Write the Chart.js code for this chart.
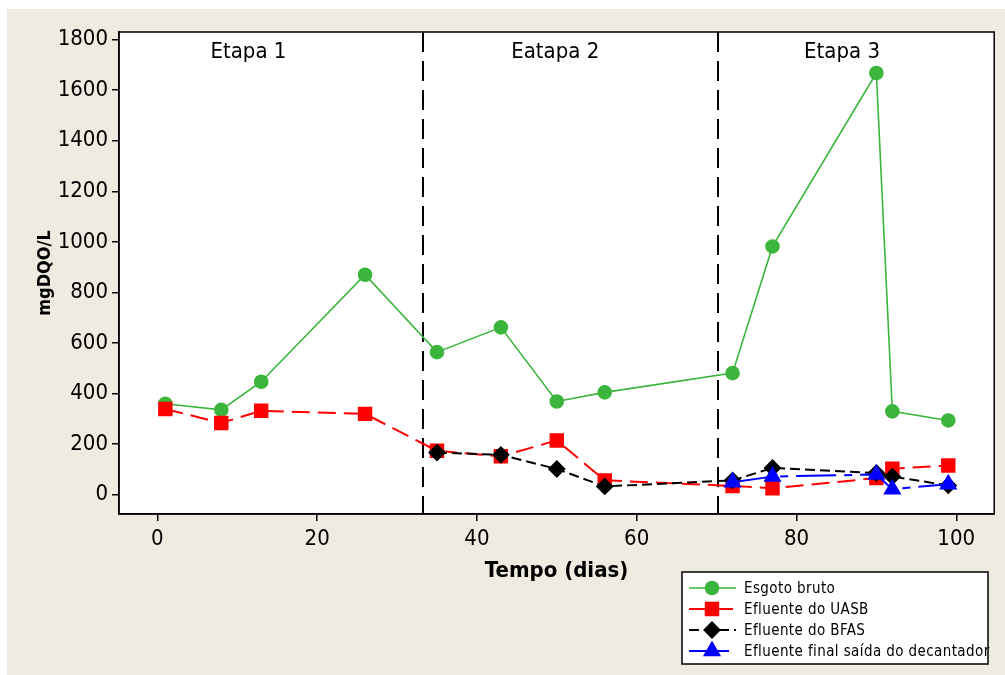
<!DOCTYPE html>
<html>
<head>
<meta charset="utf-8">
<script src="https://cdn.jsdelivr.net/npm/chart.js@4.4.1/dist/chart.umd.min.js"></script>
<style>
  html, body { margin: 0; padding: 0; background: #fff; }
  canvas { display: block; }
</style>
</head>
<body>
<canvas id="chart" width="1005" height="675"></canvas>
<script>
// dados
const dias = [1, 8, 13, 26, 35, 43, 50, 56, 72, 77, 90, 92, 99];
const esgotoBruto = [360, 336, 447, 870, 564, 662, 369, 405, 481, 982, 1668, 330, 294];
const efluenteUASB = [339, 284, 332, 320, 174, 152, 215, 57, 35, 26, 66, 103, 116];
const diasBFAS = [35, 43, 50, 56, 72, 77, 90, 92, 99];
const efluenteBFAS = [167, 158, 102, 33, 57, 106, 86, 72, 37];
const diasDecantador = [72, 77, 90, 92, 99];
const efluenteDecantador = [50, 72, 80, 22, 42];

const xTicks = [0, 20, 40, 60, 80, 100];
const yTicks = [0, 200, 400, 600, 800, 1000, 1200, 1400, 1600, 1800];

const etapaLimites = [33.2, 70.2];
const etapaNomes = ['Etapa 1', 'Eatapa 2', 'Etapa 3'];
const etapaPosicoes = [11.4, 49.8, 85.7];

const FONT = "'DejaVu Sans Condensed', 'DejaVu Sans', sans-serif";

function pares(xs, ys) {
  return xs.map((x, i) => ({ x: x, y: ys[i] }));
}

// fundo bege + area branca + moldura
const fundoPlugin = {
  id: 'fundoPlugin',
  beforeDraw(chart) {
    const ctx = chart.ctx;
    const a = chart.chartArea;
    ctx.save();
    ctx.fillStyle = '#ffffff';
    ctx.fillRect(0, 0, chart.width, chart.height);
    ctx.fillStyle = '#efebe1';
    ctx.fillRect(7, 9, chart.width - 7, chart.height - 9);
    ctx.fillStyle = '#ffffff';
    ctx.fillRect(a.left, a.top, a.right - a.left, a.bottom - a.top);
    ctx.restore();
  },
  beforeDatasetsDraw(chart) {
    const ctx = chart.ctx;
    const a = chart.chartArea;
    const xs = chart.scales.x;
    const ys = chart.scales.y;
    ctx.save();
    // linhas das etapas
    ctx.strokeStyle = '#000';
    ctx.lineWidth = 2;
    ctx.setLineDash([20, 9]);
    etapaLimites.forEach(v => {
      const px = Math.round(xs.getPixelForValue(v));
      ctx.beginPath();
      ctx.moveTo(px, a.top);
      ctx.lineTo(px, a.bottom);
      ctx.stroke();
    });
    ctx.setLineDash([]);
    ctx.fillStyle = '#000';
    ctx.font = '22px ' + FONT;
    ctx.textAlign = 'center';
    ctx.textBaseline = 'middle';
    etapaNomes.forEach((t, i) => {
      ctx.fillText(t, xs.getPixelForValue(etapaPosicoes[i]), ys.getPixelForValue(1750));
    });
    ctx.restore();
  },
  afterDraw(chart) {
    const ctx = chart.ctx;
    const a = chart.chartArea;
    ctx.save();
    ctx.strokeStyle = '#000';
    ctx.lineWidth = 1.5;
    ctx.strokeRect(a.left, a.top, a.right - a.left, a.bottom - a.top);

    // legenda
    const lx = 682, ly = 572, lw = 306, lh = 92;
    ctx.fillStyle = '#fff';
    ctx.fillRect(lx, ly, lw, lh);
    ctx.strokeRect(lx, ly, lw, lh);
    ctx.font = '15px ' + FONT;
    ctx.letterSpacing = '0.4px';
    ctx.textAlign = 'left';
    ctx.textBaseline = 'middle';
    chart.data.datasets.forEach((ds, i) => {
      const y = ly + 16 + i * 21;
      ctx.strokeStyle = ds.borderColor;
      ctx.lineWidth = ds.borderWidth;
      ctx.setLineDash(ds.borderDash || []);
      ctx.beginPath();
      ctx.moveTo(lx + 7, y);
      ctx.lineTo(lx + 54, y);
      ctx.stroke();
      ctx.setLineDash([]);
      ctx.fillStyle = ds.pointBackgroundColor;
      ctx.strokeStyle = ds.pointBorderColor;
      Chart.helpers.drawPoint(ctx, {
        pointStyle: ds.pointStyle,
        radius: ds.pointRadius,
        rotation: 0,
        borderWidth: 1
      }, lx + 30, y);
      ctx.fillStyle = '#000';
      ctx.fillText(ds.label, lx + 62, y + 1);
    });
    ctx.restore();
  }
};

const verde = '#3bb53b';

new Chart(document.getElementById('chart'), {
  type: 'scatter',
  data: {
    datasets: [
      {
        label: 'Esgoto bruto',
        data: pares(dias, esgotoBruto),
        showLine: true,
        borderColor: verde,
        backgroundColor: verde,
        pointBackgroundColor: verde,
        pointBorderColor: verde,
        borderWidth: 1.6,
        pointStyle: 'circle',
        pointRadius: 6.5,
        order: 4
      },
      {
        label: 'Efluente do UASB',
        data: pares(dias, efluenteUASB),
        showLine: true,
        borderColor: '#ff0000',
        backgroundColor: '#ff0000',
        pointBackgroundColor: '#ff0000',
        pointBorderColor: '#ff0000',
        borderWidth: 2,
        borderDash: [18, 8],
        pointStyle: 'rect',
        pointRadius: 8.8,
        order: 3
      },
      {
        label: 'Efluente do BFAS',
        data: pares(diasBFAS, efluenteBFAS),
        showLine: true,
        borderColor: '#000000',
        backgroundColor: '#000000',
        pointBackgroundColor: '#000000',
        pointBorderColor: '#000000',
        borderWidth: 2,
        borderDash: [10, 5],
        pointStyle: 'rectRot',
        pointRadius: 7.5,
        order: 2
      },
      {
        label: 'Efluente final saída do decantador',
        data: pares(diasDecantador, efluenteDecantador),
        showLine: true,
        borderColor: '#0000ff',
        backgroundColor: '#0000ff',
        pointBackgroundColor: '#0000ff',
        pointBorderColor: '#0000ff',
        borderWidth: 2,
        borderDash: [40, 8, 8, 8],
        pointStyle: 'triangle',
        pointRadius: 8.5,
        order: 1
      }
    ]
  },
  options: {
    responsive: false,
    animation: false,
    layout: {
      padding: { left: 0, right: 9, top: 32, bottom: 0 }
    },
    plugins: {
      legend: { display: false },
      tooltip: { enabled: false }
    },
    scales: {
      x: {
        type: 'linear',
        min: -4.8,
        max: 104.75,
        afterFit(scale) { scale.height = 161; },
        afterBuildTicks(scale) { scale.ticks = xTicks.map(v => ({ value: v })); },
        ticks: {
          color: '#000',
          padding: 5,
          font: { family: FONT, size: 22 },
          callback: v => String(v)
        },
        grid: {
          drawOnChartArea: false,
          drawTicks: true,
          tickLength: 7,
          color: '#000',
          lineWidth: 1.5
        },
        border: { display: true, color: '#000', width: 1.5 },
        title: {
          display: true,
          text: 'Tempo (dias)',
          color: '#000',
          font: { family: FONT, size: 22, weight: 'bold' },
          padding: { top: 0, bottom: 91 }
        }
      },
      y: {
        type: 'linear',
        min: -76,
        max: 1830,
        afterFit(scale) { scale.width = 119; },
        afterBuildTicks(scale) { scale.ticks = yTicks.map(v => ({ value: v })); },
        ticks: {
          color: '#000',
          padding: 4,
          font: { family: FONT, size: 22 },
          callback: v => String(v)
        },
        grid: {
          drawOnChartArea: false,
          drawTicks: true,
          tickLength: 7,
          color: '#000',
          lineWidth: 1.5
        },
        border: { display: true, color: '#000', width: 1.5 },
        title: {
          display: true,
          text: 'mgDQO/L',
          color: '#000',
          font: { family: FONT, size: 18, weight: 'bold' },
          padding: { top: 35, bottom: 0 }
        }
      }
    }
  },
  plugins: [fundoPlugin]
});
</script>
</body>
</html>
